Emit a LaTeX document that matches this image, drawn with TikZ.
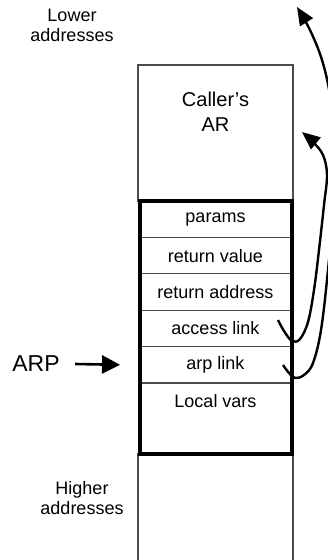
\documentclass[tikz,border=0pt]{standalone}
\usepackage{fontspec}
\setmainfont{Liberation Sans}
\usetikzlibrary{positioning}
\usetikzlibrary{arrows.meta}

\begin{document}
\begin{tikzpicture}[x=1pt, y=-1pt,
  colbox/.style={draw=black!70, line width=1.2pt, minimum width=155pt, inner sep=0pt, outer sep=0pt},
  rowbox/.style={draw=black!70, line width=1.2pt, minimum width=152pt, minimum height=36.4pt, inner sep=0pt, outer sep=0pt, font=\fontsize{18}{20}\selectfont},
  frame/.style={draw, line width=4pt},
  note/.style={align=center, font=\fontsize{18}{20}\selectfont},
  link/.style={line width=2.4pt, -{Triangle[length=18pt,width=15pt]}},
  ]

\useasboundingbox (0,0) rectangle (328,560);

% column above and below the frame
\node[colbox, minimum height=136pt, anchor=north] (caller) at (215.5,65) {};
\node[align=center, font=\fontsize{20}{25}\selectfont] (callertext) at (215.5,112) {Caller's\\AR};
\node[colbox, minimum height=130pt, anchor=north] (below) at (215.5,454) {};

% the current AR
\node[rowbox, anchor=north] (params) at (215.5,201) {params};
\node[rowbox, below=0pt of params] (retval) {return value};
\node[rowbox, below=0pt of retval] (retaddr) {return address};
\node[rowbox, below=0pt of retaddr] (access) {access link};
\node[rowbox, below=0pt of access] (arp) {arp link};
\node[rowbox, draw=none, below=0pt of arp] (locals) {Local vars};

\coordinate (framecorner) at (291.5,454);
\draw[frame] (params.north west) rectangle (framecorner);

%\draw[red] (locals.south west) -- (locals.south east);

\node[note] (lower) at (72,25) {Lower\\addresses};
\node[note] (higher) at (82,498) {Higher\\addresses};

\node[font=\fontsize{23}{26}\selectfont] (arptext) at (36,364) {ARP};
\draw[line width=2.6pt, -{Triangle[length=18pt,width=18pt]}] ([xshift=12pt]arptext.east) -- ([xshift=-19.5pt]arp.west);

% links
\coordinate (accstart) at (278,320);
\coordinate (callertip) at (302,132);
\draw[link] plot[smooth, tension=0.6] coordinates {(accstart) (284,331) (292,341) (300,339) (308,322) (314,290) (319,250) (324,205) (327,175) (323,155) (313,142) (callertip)};

\coordinate (arpstart) at (283,365);
\coordinate (toptip) at (297,7);
\draw[link] plot[smooth, tension=0.6] coordinates {(arpstart) (289,373) (295,378) (304,375) (313,363) (321,330) (328,270) (334,200) (335,140) (330,95) (322,60) (310,30) (toptip)};

\end{tikzpicture}
\end{document}
